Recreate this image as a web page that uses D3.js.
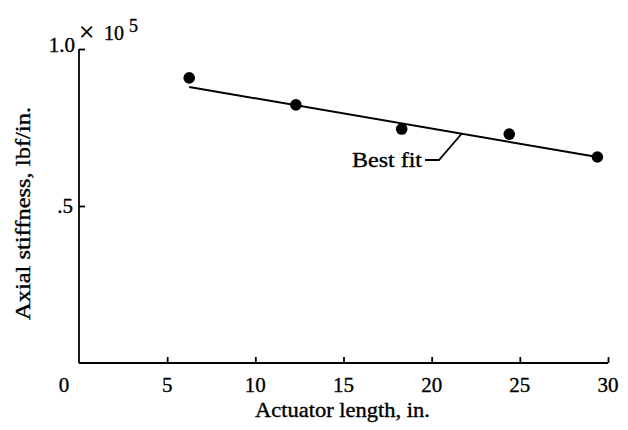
<!DOCTYPE html>
<html lang="en">
<head>
<meta charset="utf-8">
<title>Axial stiffness</title>
<script src="https://cdnjs.cloudflare.com/ajax/libs/d3/7.8.5/d3.min.js"></script>
<style>
  body { margin: 0; background: #fff; }
  text { font-family: "Liberation Serif", "Times New Roman", serif; fill: #000; stroke: #000; stroke-width: 0.35; }
</style>
</head>
<body>
<script>
// data (stiffness in units of 1e5 lbf/in.)
var lengths   = [6.25, 12.3, 18.3, 24.4, 29.4];
var stiffness = [0.908, 0.822, 0.745, 0.729, 0.656];
var fitEnds   = [[6.25, 0.879], [29.4, 0.656]];
var xTicks    = [5, 10, 15, 20, 25, 30];

var w = 628, h = 430,
    mLeft = 79, mRight = 608, mTop = 49, mBottom = 363;

var x = d3.scaleLinear().domain([0, 30]).range([mLeft, mRight]);
var y = d3.scaleLinear().domain([0, 1]).range([mBottom, mTop]);

var svg = d3.select("body").append("svg")
    .attr("width", w)
    .attr("height", h);

// axes, ticks pointing inward
var xAxis = svg.append("g")
    .attr("transform", "translate(0," + mBottom + ")")
    .call(d3.axisTop(x).tickValues(xTicks).tickSize(6).tickFormat(""));
xAxis.select(".domain").attr("d", "M" + mLeft + ",0H" + mRight);

var yAxis = svg.append("g")
    .attr("transform", "translate(" + mLeft + ",0)")
    .call(d3.axisRight(y).tickValues([0.5, 1.0]).tickSize(6).tickFormat(""));
yAxis.select(".domain").attr("d", "M0," + mBottom + "V" + mTop);

svg.selectAll(".domain, .tick line")
    .attr("stroke", "#000")
    .attr("stroke-width", 1.8);

// tick labels
svg.selectAll(".xlab")
    .data(xTicks)
    .enter().append("text")
    .attr("x", function(d) { return x(d); })
    .attr("y", 392)
    .attr("text-anchor", "middle")
    .attr("font-size", 21)
    .text(function(d) { return d; });

svg.append("text")
    .attr("x", 64).attr("y", 392)
    .attr("text-anchor", "middle")
    .attr("font-size", 21)
    .text("0");

svg.append("text")
    .attr("x", mLeft - 6).attr("y", y(0.5) + 7)
    .attr("text-anchor", "end")
    .attr("font-size", 21)
    .text(".5");

svg.append("text")
    .attr("x", mLeft - 4).attr("y", 52)
    .attr("text-anchor", "end")
    .attr("font-size", 21)
    .text("1.0");

svg.append("text")
    .attr("x", 79).attr("y", 41)
    .attr("font-size", 27)
    .text("\u00d7");
svg.append("text")
    .attr("x", 104).attr("y", 40)
    .attr("font-size", 20)
    .text("10");
svg.append("text")
    .attr("x", 129).attr("y", 32)
    .attr("font-size", 18)
    .text("5");

// axis titles
svg.append("text")
    .attr("x", 255).attr("y", 417)
    .attr("font-size", 20)
    .attr("textLength", 175)
    .attr("lengthAdjust", "spacingAndGlyphs")
    .text("Actuator length, in.");

svg.append("text")
    .attr("transform", "translate(30,320) rotate(-90)")
    .attr("font-size", 20)
    .attr("textLength", 213)
    .attr("lengthAdjust", "spacingAndGlyphs")
    .text("Axial stiffness, lbf/in.");

// best fit line
svg.append("path")
    .datum(fitEnds)
    .attr("fill", "none")
    .attr("stroke", "#000")
    .attr("stroke-width", 2)
    .attr("d", d3.line().x(function(d) { return x(d[0]); }).y(function(d) { return y(d[1]); }));

// data points
svg.selectAll(".pt")
    .data(lengths)
    .enter().append("circle")
    .attr("cx", function(d) { return x(d); })
    .attr("cy", function(d, i) { return y(stiffness[i]); })
    .attr("r", 5.8)
    .attr("fill", "#000");

// label with leader
svg.append("text")
    .attr("x", 352).attr("y", 167)
    .attr("font-size", 20)
    .attr("textLength", 70)
    .attr("lengthAdjust", "spacingAndGlyphs")
    .text("Best fit");

var fx = 21.7,
    fy = fitEnds[0][1] + (fitEnds[1][1] - fitEnds[0][1]) * (fx - fitEnds[0][0]) / (fitEnds[1][0] - fitEnds[0][0]);
svg.append("path")
    .attr("fill", "none")
    .attr("stroke", "#000")
    .attr("stroke-width", 1.8)
    .attr("d", "M425,160H439L" + x(fx) + "," + y(fy));
</script>
</body>
</html>
